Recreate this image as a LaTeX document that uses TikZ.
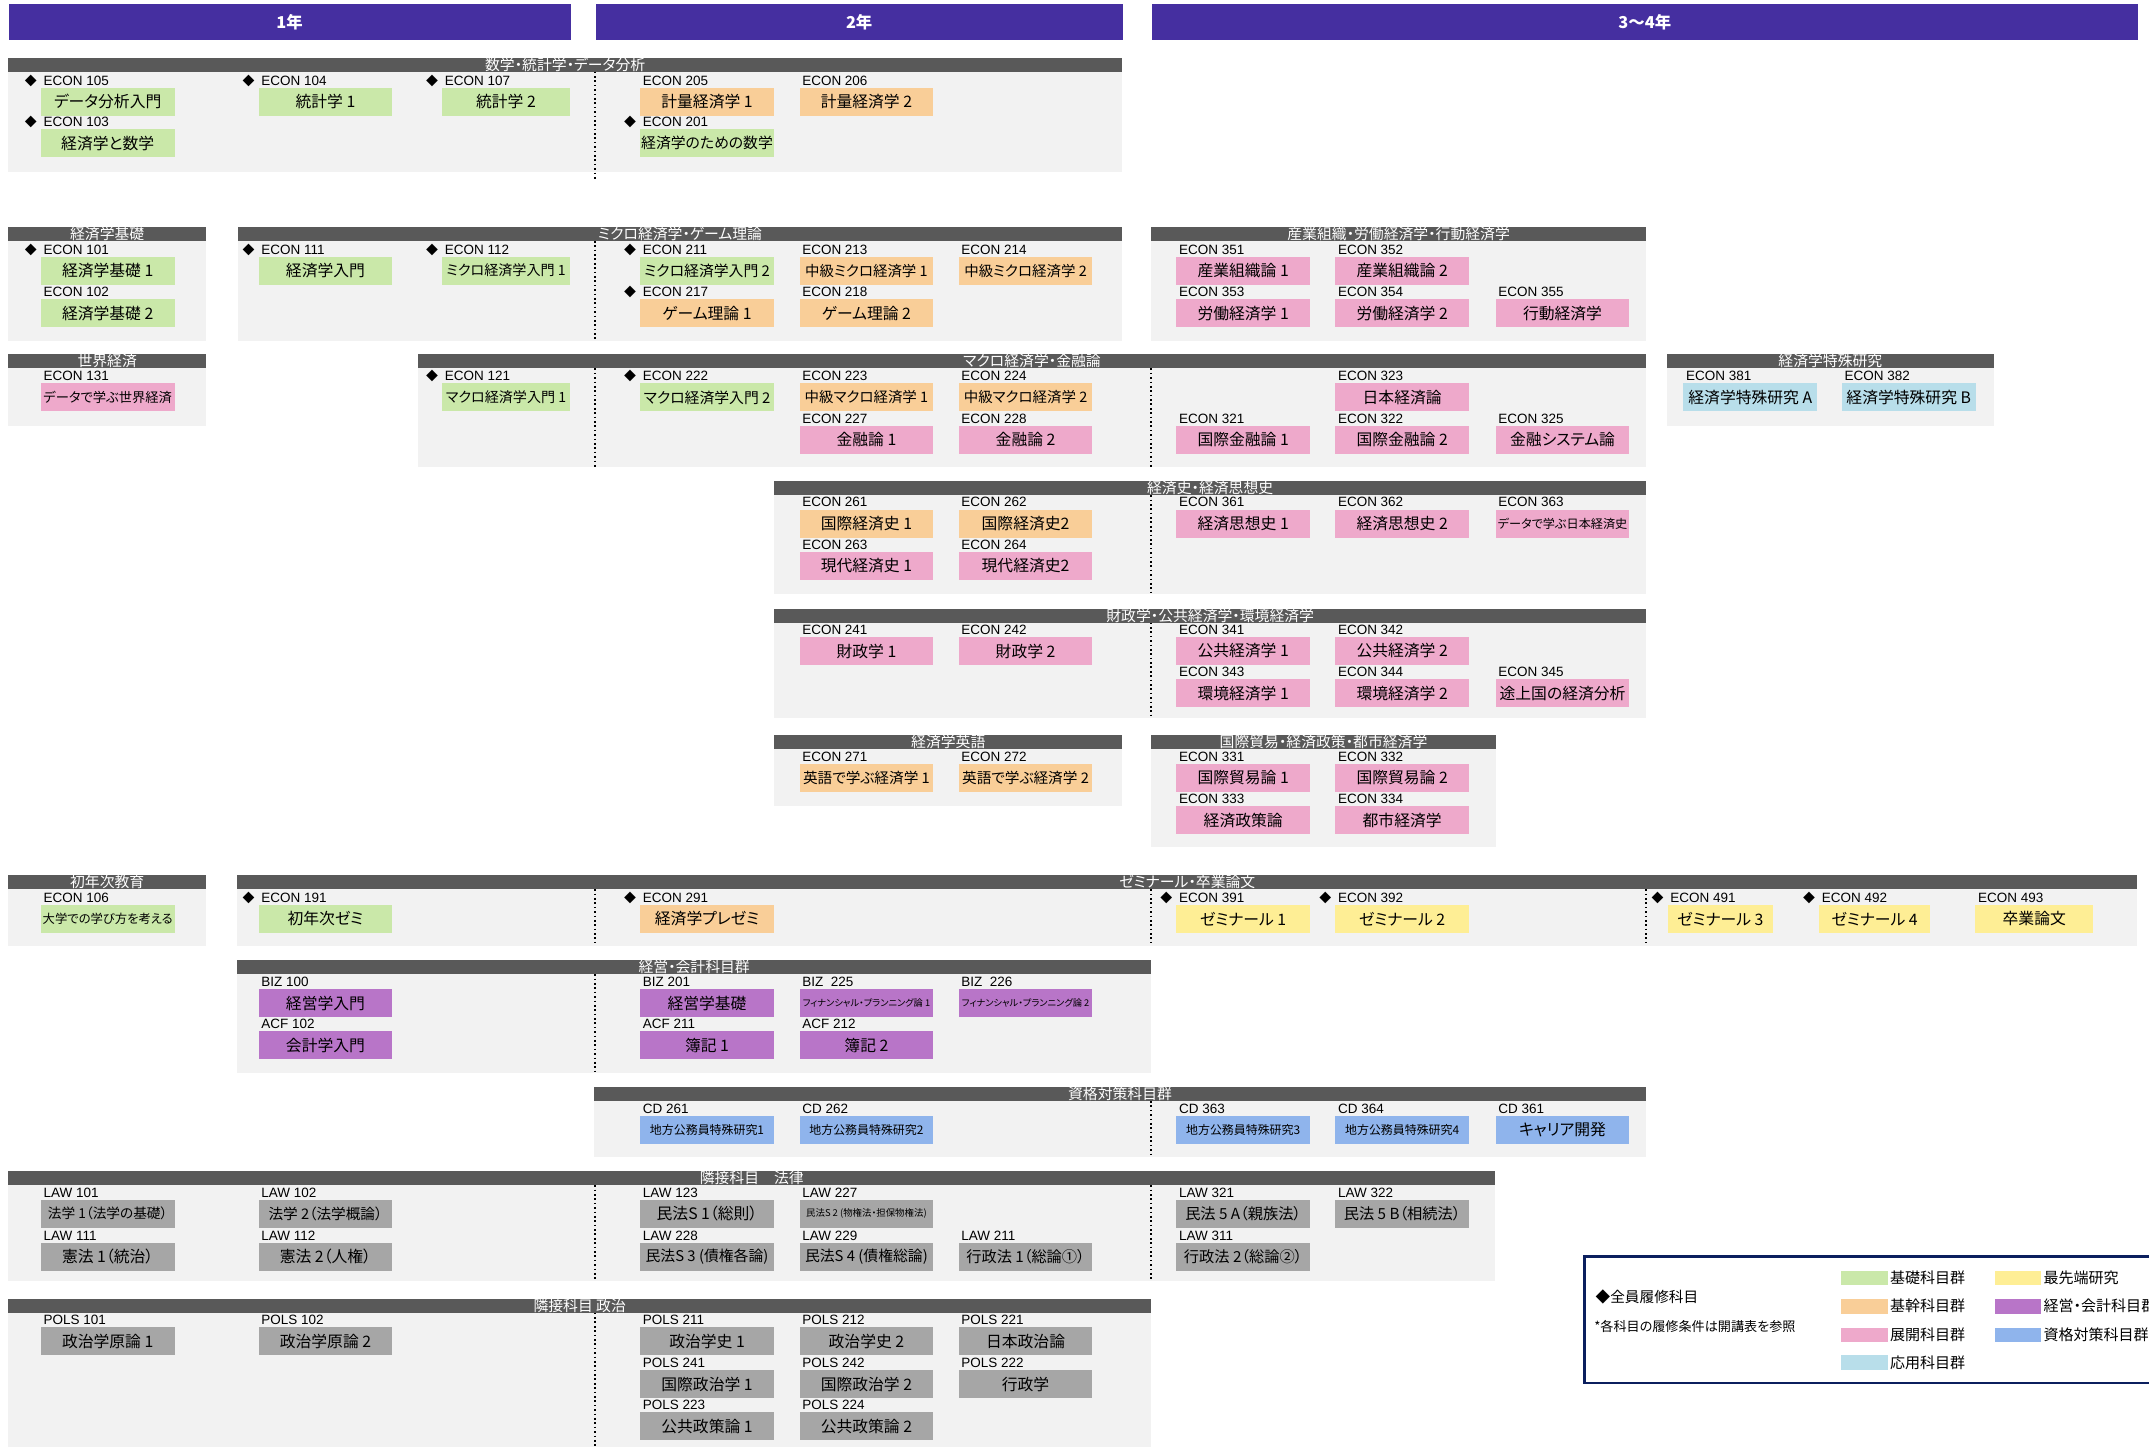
\documentclass[tikz,border=0pt]{standalone}
\usepackage{fontspec}
\setmainfont{Liberation Sans}
\newfontfamily\jp{Noto Sans CJK JP}[RawFeature=+palt]
\newcommand\jpz[1]{\jp\fontsize{#1}{#1}\selectfont}

\definecolor{yearbar}{HTML}{452FA0}
\definecolor{hdgrey}{HTML}{595959}
\definecolor{bodygrey}{HTML}{F2F2F2}
\definecolor{kiso}{HTML}{CAE8A9}
\definecolor{kikan}{HTML}{F9CE98}
\definecolor{tenkai}{HTML}{EEA9CB}
\definecolor{ouyou}{HTML}{B8DEEA}
\definecolor{saisen}{HTML}{FEEE95}
\definecolor{keiei}{HTML}{B875C8}
\definecolor{shikaku}{HTML}{8FB4EC}
\definecolor{rinsetsu}{HTML}{A6A6A6}
\definecolor{navy}{HTML}{0B1F5E}

% section: name, x1, x2, top, bottom, title
\newcommand\sect[6]{%
  \fill[bodygrey] (#2,#4) rectangle (#3,#5);
  \fill[hdgrey] (#2,#4) rectangle (#3,{#4+10.3});
  \node[sectitle] (#1) at ({(#2+#3)/2},{#4+5.15}) {#6};}
% course: [opts], colour, name, top left, code, title
\newcommand\crs[6][]{%
  \node[cbox,fill=#2,#1] (#3) at (#4) {#6};
  \node[clabel] (#3-c) at ([xshift=0.5mm,yshift=0.4mm]#3.north west) {#5};}
\newcommand\req[1]{\node[req] (#1-r) at ([xshift=-1.1mm]#1-c.base west) {◆};}

\begin{document}
\begin{tikzpicture}[x=0.25mm,y=-0.25mm,
	cbox/.style={anchor=north west,minimum width=24.4mm,minimum height=5.1mm,
		inner sep=0pt,font=\jpz{8.2}},
	clabel/.style={anchor=base west,inner sep=0pt,font=\fontsize{7}{7}\selectfont},
	req/.style={anchor=base east,inner sep=0pt,font=\jpz{6.2}},
	sectitle/.style={text=white,inner sep=0pt,font=\jpz{7.7}},
	yearhead/.style={fill=yearbar,text=white,anchor=north west,minimum height=6.55mm,
		inner sep=0pt,font=\jp\bfseries\fontsize{8.5}{8.5}\selectfont},
	divider/.style={line width=0.3mm,dash pattern=on 0.3mm off 0.5mm},
	swatch/.style={anchor=west,minimum width=8.5mm,minimum height=2.7mm,inner sep=0pt},
	legtxt/.style={anchor=west,inner sep=0pt,font=\jpz{7.8}}]
	\useasboundingbox (0,0) rectangle (1568,1056);
	\clip (0,0) rectangle (1568,1056);
	\fill[white] (0,0) rectangle (1568,1056);

	% years
	\node[yearhead,minimum width=102.5mm] (yr1) at (6,3) {1年};
	\node[yearhead,minimum width=96.1mm] (yr2) at (434.4,3) {2年};
	\node[yearhead,minimum width=179.9mm] (yr34) at (840,3) {3〜4年};

	% sections
	\sect{sMath}{6}{818.8}{42}{125.5}{数学・統計学・データ分析}
	\sect{sBasic}{6}{150.4}{165.5}{248.5}{経済学基礎}
	\sect{sMicro}{173.5}{818.8}{165.5}{248.5}{ミクロ経済学・ゲーム理論}
	\sect{sIO}{840}{1201}{165.5}{248.5}{産業組織・労働経済学・行動経済学}
	\sect{sWorld}{6}{150.4}{258.5}{310.5}{世界経済}
	\sect{sMacro}{305}{1201}{258.5}{340.5}{マクロ経済学・金融論}
	\sect{sSpecial}{1216}{1455}{258.5}{310.5}{経済学特殊研究}
	\sect{sHist}{565}{1201}{351}{433.5}{経済史・経済思想史}
	\sect{sPublic}{565}{1201}{444}{524}{財政学・公共経済学・環境経済学}
	\sect{sEng}{565}{818.8}{536.3}{588}{経済学英語}
	\sect{sTrade}{840}{1091.4}{536.3}{618.3}{国際貿易・経済政策・都市経済学}
	\sect{sFirst}{6}{150.4}{638.5}{690}{初年次教育}
	\sect{sSemi}{173}{1559.5}{638.5}{690}{ゼミナール・卒業論文}
	\sect{sBiz}{173}{840}{700.5}{783}{経営・会計科目群}
	\sect{sCert}{433.5}{1201}{793}{844}{資格対策科目群}
	\sect{sLaw}{6}{1091}{854.5}{935}{隣接科目　法律}
	\sect{sPol}{6}{840}{947.5}{1056}{隣接科目 政治}

	% year dividers
	\draw[divider] (434,52.3) -- (434,131.4);
	\draw[divider] (434,175.8) -- (434,248.5);
	\draw[divider] (434,268.8) -- (434,340.5);
	\draw[divider] (840,268.8) -- (840,340.5);
	\draw[divider] (840,361.3) -- (840,433.5);
	\draw[divider] (840,454.3) -- (840,524);
	\draw[divider] (434,648.8) -- (434,690);
	\draw[divider] (840,648.8) -- (840,690);
	\draw[divider] (1201,648.8) -- (1201,690);
	\draw[divider] (434,710.8) -- (434,783);
	\draw[divider] (840,803.3) -- (840,844);
	\draw[divider] (434,864.8) -- (434,935);
	\draw[divider] (840,864.8) -- (840,935);
	\draw[divider] (434,957.8) -- (434,1056);

	% math, statistics
	\crs{kiso}{e105}{29.5,63.7}{ECON 105}{データ分析入門}\req{e105}
	\crs{kiso}{e104}{188.4,63.7}{ECON 104}{統計学 1}\req{e104}
	\crs[minimum width=23.25mm]{kiso}{e107}{322.4,63.7}{ECON 107}{統計学 2}\req{e107}
	\crs{kikan}{e205}{466.8,63.7}{ECON 205}{計量経済学 1}
	\crs{kikan}{e206}{583.1,63.7}{ECON 206}{計量経済学 2}
	\crs{kiso}{e103}{29.5,94.1}{ECON 103}{経済学と数学}\req{e103}
	\crs[font=\jpz{7.7}]{kiso}{e201}{466.8,94.1}{ECON 201}{経済学のための数学}\req{e201}

	% basics, micro, IO
	\crs{kiso}{e101}{29.5,187}{ECON 101}{経済学基礎 1}\req{e101}
	\crs{kiso}{e102}{29.5,218}{ECON 102}{経済学基礎 2}
	\crs{kiso}{e111}{188.4,187}{ECON 111}{経済学入門}\req{e111}
	\crs[minimum width=23.25mm,font=\jpz{7.3}]{kiso}{e112}{322.4,187}{ECON 112}{ミクロ経済学入門 1}\req{e112}
	\crs[font=\jpz{7.7}]{kiso}{e211}{466.8,187}{ECON 211}{ミクロ経済学入門 2}\req{e211}
	\crs[font=\jpz{7.5}]{kikan}{e213}{583.1,187}{ECON 213}{中級ミクロ経済学 1}
	\crs[font=\jpz{7.5}]{kikan}{e214}{699.2,187}{ECON 214}{中級ミクロ経済学 2}
	\crs{kikan}{e217}{466.8,218}{ECON 217}{ゲーム理論 1}\req{e217}
	\crs{kikan}{e218}{583.1,218}{ECON 218}{ゲーム理論 2}
	\crs{tenkai}{e351}{858,187}{ECON 351}{産業組織論 1}
	\crs{tenkai}{e352}{974,187}{ECON 352}{産業組織論 2}
	\crs{tenkai}{e353}{858,218}{ECON 353}{労働経済学 1}
	\crs{tenkai}{e354}{974,218}{ECON 354}{労働経済学 2}
	\crs{tenkai}{e355}{1091,218}{ECON 355}{行動経済学}

	% world, macro, special
	\crs[font=\jpz{6.9}]{tenkai}{e131}{29.5,279.5}{ECON 131}{データで学ぶ世界経済}
	\crs[minimum width=23.25mm,font=\jpz{7.3}]{kiso}{e121}{322.4,279.5}{ECON 121}{マクロ経済学入門 1}\req{e121}
	\crs[font=\jpz{7.7}]{kiso}{e222}{466.8,279.5}{ECON 222}{マクロ経済学入門 2}\req{e222}
	\crs[font=\jpz{7.5}]{kikan}{e223}{583.1,279.5}{ECON 223}{中級マクロ経済学 1}
	\crs[font=\jpz{7.5}]{kikan}{e224}{699.2,279.5}{ECON 224}{中級マクロ経済学 2}
	\crs{tenkai}{e323}{974,279.5}{ECON 323}{日本経済論}
	\crs{tenkai}{e227}{583.1,310.5}{ECON 227}{金融論 1}
	\crs{tenkai}{e228}{699.2,310.5}{ECON 228}{金融論 2}
	\crs{tenkai}{e321}{858,310.5}{ECON 321}{国際金融論 1}
	\crs{tenkai}{e322}{974,310.5}{ECON 322}{国際金融論 2}
	\crs{tenkai}{e325}{1091,310.5}{ECON 325}{金融システム論}
	\crs{ouyou}{e381}{1228,279.5}{ECON 381}{経済学特殊研究 A}
	\crs{ouyou}{e382}{1343.6,279.5}{ECON 382}{経済学特殊研究 B}

	% history
	\crs{kikan}{e261}{583.1,371.5}{ECON 261}{国際経済史 1}
	\crs{kikan}{e262}{699.2,371.5}{ECON 262}{国際経済史2}
	\crs{tenkai}{e263}{583.1,402.5}{ECON 263}{現代経済史 1}
	\crs{tenkai}{e264}{699.2,402.5}{ECON 264}{現代経済史2}
	\crs{tenkai}{e361}{858,371.5}{ECON 361}{経済思想史 1}
	\crs{tenkai}{e362}{974,371.5}{ECON 362}{経済思想史 2}
	\crs[font=\jpz{6.3}]{tenkai}{e363}{1091,371.5}{ECON 363}{データで学ぶ日本経済史}

	% public
	\crs{tenkai}{e241}{583.1,464.5}{ECON 241}{財政学 1}
	\crs{tenkai}{e242}{699.2,464.5}{ECON 242}{財政学 2}
	\crs{tenkai}{e341}{858,464.5}{ECON 341}{公共経済学 1}
	\crs{tenkai}{e342}{974,464.5}{ECON 342}{公共経済学 2}
	\crs{tenkai}{e343}{858,495.5}{ECON 343}{環境経済学 1}
	\crs{tenkai}{e344}{974,495.5}{ECON 344}{環境経済学 2}
	\crs{tenkai}{e345}{1091,495.5}{ECON 345}{途上国の経済分析}

	% english, trade
	\crs[font=\jpz{7.6}]{kikan}{e271}{583.1,557}{ECON 271}{英語で学ぶ経済学 1}
	\crs[font=\jpz{7.6}]{kikan}{e272}{699.2,557}{ECON 272}{英語で学ぶ経済学 2}
	\crs{tenkai}{e331}{858,557}{ECON 331}{国際貿易論 1}
	\crs{tenkai}{e332}{974,557}{ECON 332}{国際貿易論 2}
	\crs{tenkai}{e333}{858,588}{ECON 333}{経済政策論}
	\crs{tenkai}{e334}{974,588}{ECON 334}{都市経済学}

	% first year, seminars
	\crs[font=\jpz{6.4}]{kiso}{e106}{29.5,660}{ECON 106}{大学での学び方を考える}
	\crs{kiso}{e191}{188.4,660}{ECON 191}{初年次ゼミ}\req{e191}
	\crs{kikan}{e291}{466.8,660}{ECON 291}{経済学プレゼミ}\req{e291}
	\crs{saisen}{e391}{858,660}{ECON 391}{ゼミナール 1}\req{e391}
	\crs{saisen}{e392}{974,660}{ECON 392}{ゼミナール 2}\req{e392}
	\crs[minimum width=19.25mm]{saisen}{e491}{1216.5,660}{ECON 491}{ゼミナール 3}\req{e491}
	\crs[minimum width=20.25mm]{saisen}{e492}{1327,660}{ECON 492}{ゼミナール 4}\req{e492}
	\crs[minimum width=21.5mm]{saisen}{e493}{1441,660}{ECON 493}{卒業論文}

	% business, accounting
	\crs{keiei}{b100}{188.4,721.5}{BIZ 100}{経営学入門}
	\crs{keiei}{a102}{188.4,752}{ACF 102}{会計学入門}
	\crs{keiei}{b201}{466.8,721.5}{BIZ 201}{経営学基礎}
	\crs[font=\jpz{4.8}]{keiei}{b225}{583.1,721.5}{BIZ\ \ 225}{フィナンシャル・プランニング論 1}
	\crs[font=\jpz{4.8}]{keiei}{b226}{699.2,721.5}{BIZ\ \ 226}{フィナンシャル・プランニング論 2}
	\crs{keiei}{a211}{466.8,752}{ACF 211}{簿記 1}
	\crs{keiei}{a212}{583.1,752}{ACF 212}{簿記 2}

	% certification
	\crs[font=\jpz{6.2}]{shikaku}{c261}{466.8,814}{CD 261}{地方公務員特殊研究1}
	\crs[font=\jpz{6.2}]{shikaku}{c262}{583.1,814}{CD 262}{地方公務員特殊研究2}
	\crs[font=\jpz{6.2}]{shikaku}{c363}{858,814}{CD 363}{地方公務員特殊研究3}
	\crs[font=\jpz{6.2}]{shikaku}{c364}{974,814}{CD 364}{地方公務員特殊研究4}
	\crs{shikaku}{c361}{1091,814}{CD 361}{キャリア開発}

	% law
	\crs[font=\jpz{7.1}]{rinsetsu}{l101}{29.5,875}{LAW 101}{法学 1（法学の基礎）}
	\crs[font=\jpz{7.6}]{rinsetsu}{l102}{188.4,875}{LAW 102}{法学 2（法学概論）}
	\crs{rinsetsu}{l111}{29.5,906.5}{LAW 111}{憲法 1（統治）}
	\crs{rinsetsu}{l112}{188.4,906.5}{LAW 112}{憲法 2（人権）}
	\crs{rinsetsu}{l123}{466.8,875}{LAW 123}{民法S 1（総則）}
	\crs[font=\jpz{4.9}]{rinsetsu}{l227}{583.1,875}{LAW 227}{民法S 2 (物権法・担保物権法)}
	\crs[font=\jpz{7.7}]{rinsetsu}{l228}{466.8,906.5}{LAW 228}{民法S 3 (債権各論)}
	\crs[font=\jpz{7.7}]{rinsetsu}{l229}{583.1,906.5}{LAW 229}{民法S 4 (債権総論)}
	\crs[font=\jpz{7.9}]{rinsetsu}{l211}{699.2,906.5}{LAW 211}{行政法 1（総論①）}
	\crs[font=\jpz{7.9}]{rinsetsu}{l321}{858,875}{LAW 321}{民法 5 A（親族法）}
	\crs[font=\jpz{7.9}]{rinsetsu}{l322}{974,875}{LAW 322}{民法 5 B（相続法）}
	\crs[font=\jpz{7.9}]{rinsetsu}{l311}{858,906.5}{LAW 311}{行政法 2（総論②）}

	% politics
	\crs{rinsetsu}{p101}{29.5,968}{POLS 101}{政治学原論 1}
	\crs{rinsetsu}{p102}{188.4,968}{POLS 102}{政治学原論 2}
	\crs{rinsetsu}{p211}{466.8,968}{POLS 211}{政治学史 1}
	\crs{rinsetsu}{p212}{583.1,968}{POLS 212}{政治学史 2}
	\crs{rinsetsu}{p221}{699.2,968}{POLS 221}{日本政治論}
	\crs{rinsetsu}{p241}{466.8,999.5}{POLS 241}{国際政治学 1}
	\crs{rinsetsu}{p242}{583.1,999.5}{POLS 242}{国際政治学 2}
	\crs{rinsetsu}{p222}{699.2,999.5}{POLS 222}{行政学}
	\crs{rinsetsu}{p223}{466.8,1030}{POLS 223}{公共政策論 1}
	\crs{rinsetsu}{p224}{583.1,1030}{POLS 224}{公共政策論 2}

	% legend
	\draw[navy,line width=0.5mm] (1156,917) rectangle (1600,1009);
	\node[legtxt,font=\jpz{7.6}] (lgReq) at (1164,946.5) {◆全員履修科目};
	\node[legtxt,font=\jpz{6.8}] (lgNote) at (1163,968) {*各科目の履修条件は開講表を参照};
	\foreach \c/\t/\x/\y in {kiso/基礎科目群/1343/932.5, kikan/基幹科目群/1343/953,
		tenkai/展開科目群/1343/974, ouyou/応用科目群/1343/994,
		saisen/最先端研究/1455/932.5, keiei/経営・会計科目群/1455/953,
		shikaku/資格対策科目群/1455/974}{
		\node[swatch,fill=\c] (lg-\c) at (\x,\y) {};
		\node[legtxt] (lg-\c-t) at ([xshift=0.3mm]lg-\c.east) {\t};
	}
\end{tikzpicture}
\end{document}
